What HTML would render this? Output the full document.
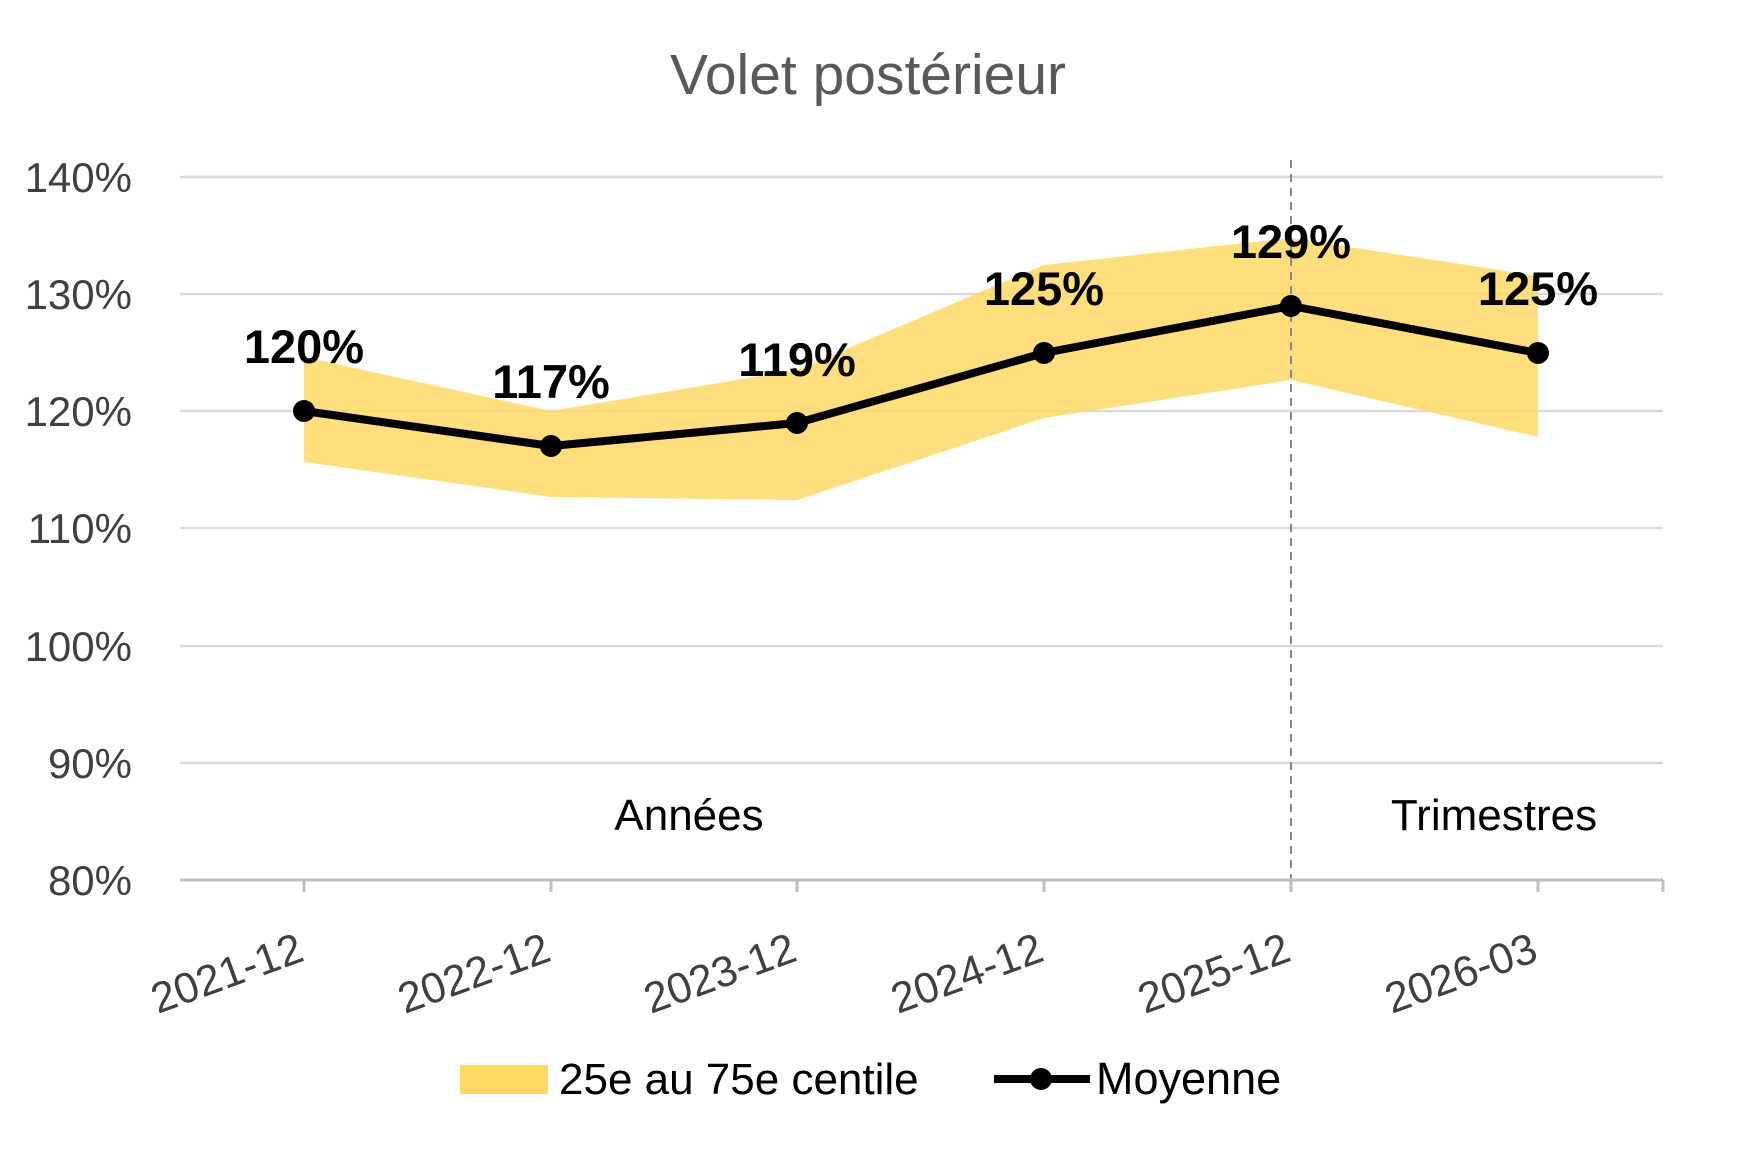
<!DOCTYPE html>
<html><head><meta charset="utf-8"><style>
html,body{margin:0;padding:0;background:#fff;}
svg{display:block;font-family:"Liberation Sans",sans-serif;}
</style></head><body>
<svg width="1737" height="1152" viewBox="0 0 1737 1152" xmlns="http://www.w3.org/2000/svg">
<rect width="1737" height="1152" fill="#fff"/>
<text x="868" y="94" text-anchor="middle" font-size="57" fill="#595959">Volet postérieur</text>
<g stroke="#d9d9d9" stroke-width="2.5">
<line x1="180" y1="177" x2="1663" y2="177"/>
<line x1="180" y1="294" x2="1663" y2="294"/>
<line x1="180" y1="411" x2="1663" y2="411"/>
<line x1="180" y1="528" x2="1663" y2="528"/>
<line x1="180" y1="646" x2="1663" y2="646"/>
<line x1="180" y1="763" x2="1663" y2="763"/>
</g>
<g font-size="42" fill="#404040" text-anchor="end">
<text x="132" y="192">140%</text>
<text x="132" y="309">130%</text>
<text x="132" y="426">120%</text>
<text x="132" y="543">110%</text>
<text x="132" y="661">100%</text>
<text x="132" y="778">90%</text>
<text x="132" y="895">80%</text>
</g>
<polygon fill="#ffd966" fill-opacity="0.85" points="304,357 551,411 797,370 1044,265 1291,238 1538,276 1538,437 1291,380 1044,418 797,500 551,497 304,462"/>
<line x1="1291" y1="160" x2="1291" y2="880" stroke="#888" stroke-width="2" stroke-dasharray="8,6"/>
<line x1="180" y1="880" x2="1663" y2="880" stroke="#bfbfbf" stroke-width="3"/>
<g stroke="#bfbfbf" stroke-width="3">
<line x1="304" y1="880" x2="304" y2="892"/><line x1="551" y1="880" x2="551" y2="892"/>
<line x1="797" y1="880" x2="797" y2="892"/><line x1="1044" y1="880" x2="1044" y2="892"/>
<line x1="1291" y1="880" x2="1291" y2="892"/><line x1="1538" y1="880" x2="1538" y2="892"/>
<line x1="1663" y1="880" x2="1663" y2="892"/>
</g>
<polyline fill="none" stroke="#000" stroke-width="8" stroke-linejoin="round" points="304,411 551,446 797,423 1044,353 1291,306 1538,353"/>
<g fill="#000">
<circle cx="304" cy="411" r="11"/><circle cx="551" cy="446" r="11"/><circle cx="797" cy="423" r="11"/>
<circle cx="1044" cy="353" r="11"/><circle cx="1291" cy="306" r="11"/><circle cx="1538" cy="353" r="11"/>
</g>
<g font-size="47" font-weight="bold" fill="#000" text-anchor="middle">
<text x="304" y="363">120%</text><text x="551" y="398">117%</text><text x="797" y="376">119%</text>
<text x="1044" y="305">125%</text><text x="1291" y="258">129%</text><text x="1538" y="305">125%</text>
</g>
<text x="689" y="830" font-size="44" text-anchor="middle" fill="#000">Années</text>
<text x="1494" y="830" font-size="44" text-anchor="middle" fill="#000">Trimestres</text>
<g font-size="43" fill="#404040" text-anchor="end">
<text transform="translate(306,960) rotate(-20)">2021-12</text>
<text transform="translate(553,960) rotate(-20)">2022-12</text>
<text transform="translate(799,960) rotate(-20)">2023-12</text>
<text transform="translate(1046,960) rotate(-20)">2024-12</text>
<text transform="translate(1293,960) rotate(-20)">2025-12</text>
<text transform="translate(1540,960) rotate(-20)">2026-03</text>
</g>
<rect x="460" y="1065" width="88" height="29" fill="#ffd966"/>
<text x="559" y="1094" font-size="44" fill="#000">25e au 75e centile</text>
<line x1="994" y1="1079" x2="1090" y2="1079" stroke="#000" stroke-width="8"/>
<circle cx="1041" cy="1079" r="11" fill="#000"/>
<text x="1096" y="1094" font-size="45" fill="#000">Moyenne</text>
</svg>
</body></html>
